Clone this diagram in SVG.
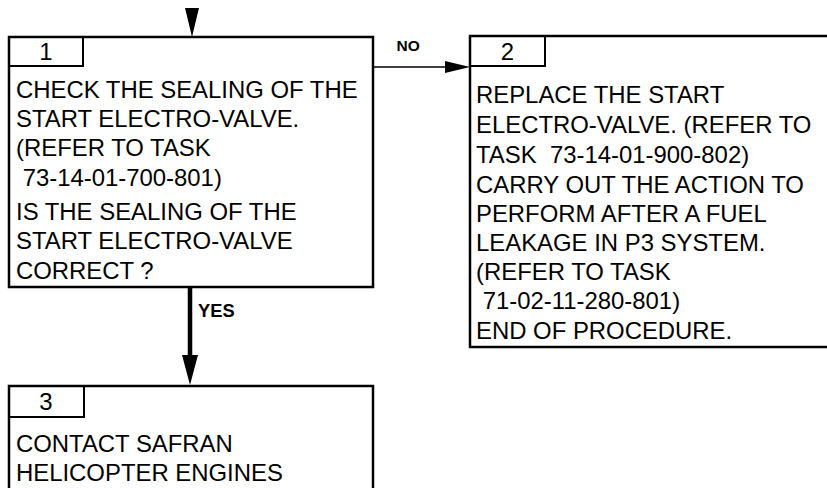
<svg xmlns="http://www.w3.org/2000/svg" width="827" height="488" viewBox="0 0 827 488">
<style>
.box{fill:#fff;stroke:#000;stroke-width:2.5}
.tab{fill:none;stroke:#000;stroke-width:2}
.t{font-family:"Liberation Sans",Arial,sans-serif;font-size:23.9px;fill:#000}
.n{font-family:"Liberation Sans",Arial,sans-serif;font-size:23.9px;fill:#000;text-anchor:middle}
.lbl{font-family:"Liberation Sans",Arial,sans-serif;font-weight:bold;fill:#000}
</style>
<rect x="0" y="0" width="827" height="488" fill="#fff"/>
<g id="connectors">
<polygon points="185,8 199,8 192,37" fill="#000"/>
<line x1="373" y1="67" x2="447" y2="67" stroke="#000" stroke-width="1.3"/>
<polygon points="445,61 470,67 445,73" fill="#000"/>
<text class="lbl" x="396.5" y="50.5" font-size="15.5">NO</text>
<line x1="190" y1="287" x2="190" y2="357" stroke="#000" stroke-width="4.5"/>
<polygon points="182,355 198,355 190,385" fill="#000"/>
<text class="lbl" x="198" y="317" font-size="18.3">YES</text>
</g>
<g id="node1">
<rect class="box" x="9" y="37" width="364" height="250"/>
<polyline class="tab" points="9,66 83,66 83,37"/>
<text class="n" x="46" y="59.5">1</text>
<text class="t" x="16" y="97.5">CHECK THE SEALING OF THE</text>
<text class="t" x="16" y="127">START ELECTRO-VALVE.</text>
<text class="t" x="16" y="156">(REFER TO TASK</text>
<text class="t" x="16" y="185.5" xml:space="preserve"> 73-14-01-700-801)</text>
<text class="t" x="16" y="220">IS THE SEALING OF THE</text>
<text class="t" x="16" y="249">START ELECTRO-VALVE</text>
<text class="t" x="16" y="278.5">CORRECT ?</text>
</g>
<g id="node2">
<rect class="box" x="470" y="36" width="370" height="311"/>
<polyline class="tab" points="470,66 545,66 545,36"/>
<text class="n" x="507.5" y="60">2</text>
<text class="t" x="476" y="103">REPLACE THE START</text>
<text class="t" x="476" y="133">ELECTRO-VALVE. (REFER TO</text>
<text class="t" x="476" y="163" xml:space="preserve">TASK  73-14-01-900-802)</text>
<text class="t" x="476" y="193">CARRY OUT THE ACTION TO</text>
<text class="t" x="476" y="222">PERFORM AFTER A FUEL</text>
<text class="t" x="476" y="251">LEAKAGE IN P3 SYSTEM.</text>
<text class="t" x="476" y="280">(REFER TO TASK</text>
<text class="t" x="476" y="309" xml:space="preserve"> 71-02-11-280-801)</text>
<text class="t" x="476" y="339">END OF PROCEDURE.</text>
</g>
<g id="node3">
<rect class="box" x="9" y="386" width="364" height="120"/>
<polyline class="tab" points="9,417 84,417 84,386"/>
<text class="n" x="46" y="409.5">3</text>
<text class="t" x="16" y="452">CONTACT SAFRAN</text>
<text class="t" x="16" y="481">HELICOPTER ENGINES</text>
</g>
</svg>
